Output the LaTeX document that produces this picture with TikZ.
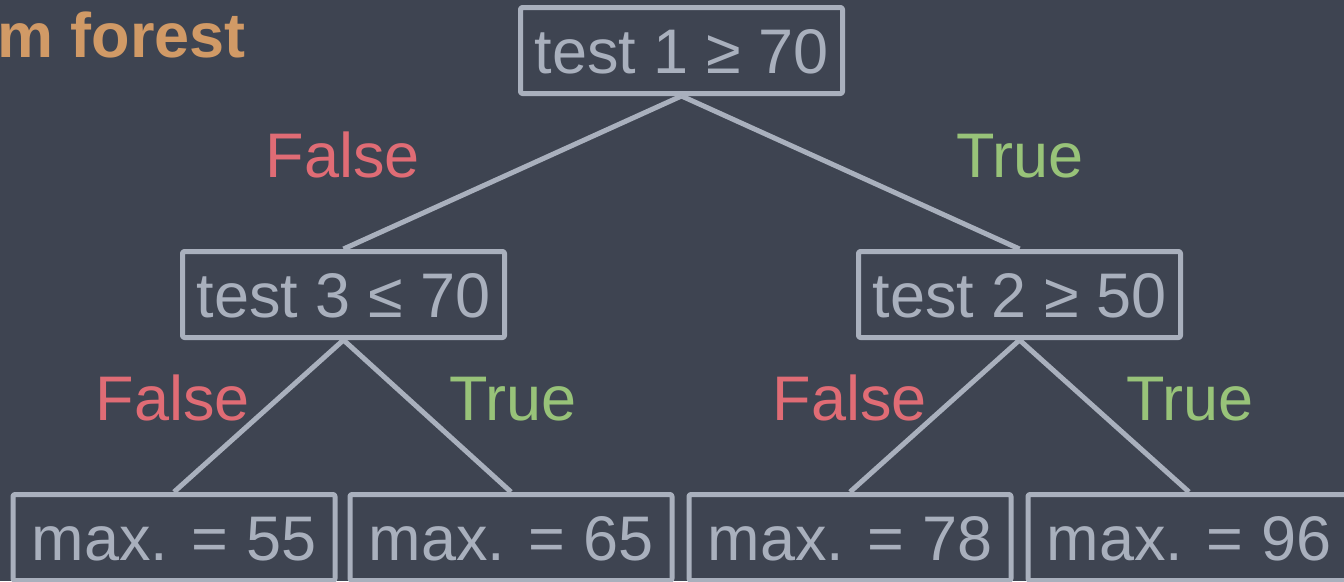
\documentclass[tikz,border=0pt]{standalone}
\usepackage{fontspec}
\setmainfont{Liberation Sans}
\definecolor{bgc}{HTML}{3E4451}
\definecolor{fgc}{HTML}{A9B0BD}
\definecolor{redc}{HTML}{E06C75}
\definecolor{greenc}{HTML}{98C379}
\definecolor{orangec}{HTML}{D19A66}
\tikzset{
  box/.style={draw=fgc, line width=5pt, line join=round, rounded corners=2pt, text=fgc, minimum width=322pt, minimum height=86pt,
    inner sep=0pt, text height=45pt, text depth=0pt, font=\fontsize{63}{70}\selectfont},
  edge/.style={draw=fgc, line width=5pt},
  flabel/.style={text=redc, inner sep=0pt, text height=45pt, text depth=0pt, font=\fontsize{63}{70}\selectfont},
  tlabel/.style={text=greenc, inner sep=0pt, text height=45pt, text depth=0pt, font=\fontsize{63}{70}\selectfont}
}
\begin{document}
\begin{tikzpicture}[x=1pt,y=-1pt]
\fill[bgc] (0,0) rectangle (1344,581);
\useasboundingbox (0,0) rectangle (1344,581);
\node[anchor=base west, text=orangec, inner sep=0pt, font=\bfseries\fontsize{63}{70}\selectfont] (title) at (-3,57) {m forest};
\node[box] (root) at (681.5,50.5) {test 1 ≥ 70};
\node[box] (l) at (343.5,294.5) {test 3 ≤ 70};
\node[box] (r) at (1019.5,294.5) {test 2 ≥ 50};
\node[box] (ll) at (174,537.5) {max. = 55};
\node[box] (lr) at (511,537.5) {max. = 65};
\node[box] (rl) at (850,537.5) {max. = 78};
\node[box] (rr) at (1189,537.5) {max. = 96};
\draw[edge] (root.south) -- (l.north);
\draw[edge] (root.south) -- (r.north);
\draw[edge] (l.south) -- (ll.north);
\draw[edge] (l.south) -- (lr.north);
\draw[edge] (r.south) -- (rl.north);
\draw[edge] (r.south) -- (rr.north);
\node[flabel] (f1) at (343,155) {False};
\node[tlabel] (t1) at (1020,155) {True};
\node[flabel] (f2) at (173,398) {False};
\node[tlabel] (t2) at (513,398) {True};
\node[flabel] (f3) at (850,398) {False};
\node[tlabel] (t3) at (1190,398) {True};
\end{tikzpicture}
\end{document}
